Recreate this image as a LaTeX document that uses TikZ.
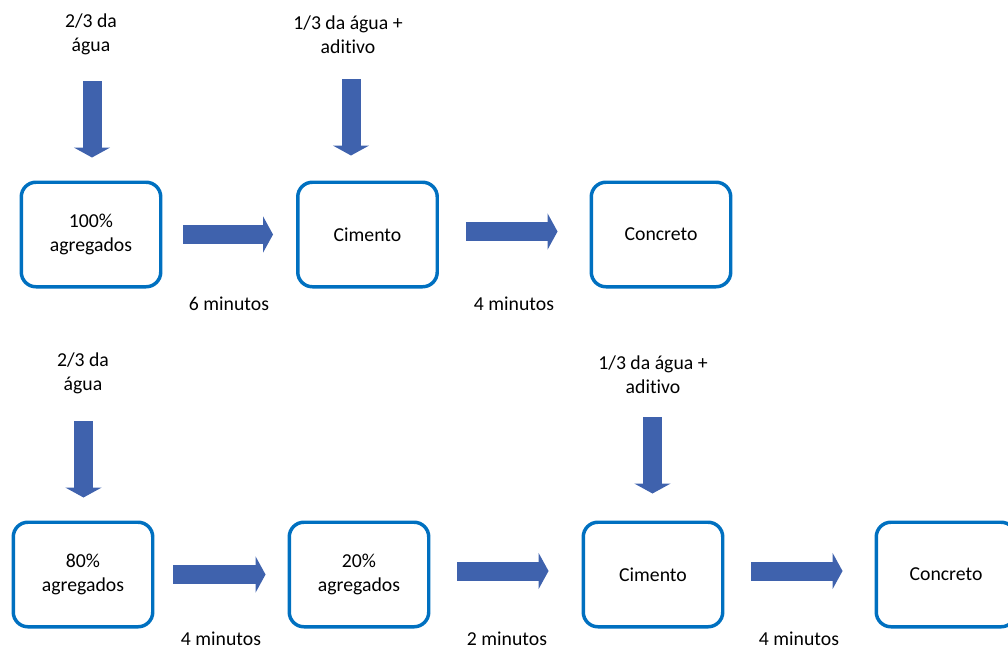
\documentclass[tikz,border=0pt]{standalone}
\usepackage{fontspec}
\setmainfont{Carlito}[Ligatures=NoCommon]
\usetikzlibrary{arrows.meta,calc}
\definecolor{boxblue}{HTML}{0070C0}
\definecolor{arrblue}{HTML}{3F62AD}
\begin{document}
\begin{tikzpicture}[x=0.75pt, y=-0.75pt,
    txt/.style={align=center, inner sep=0pt, font=\fontsize{14.8}{18}\selectfont},
    box/.style={txt, draw=boxblue, line width=2.6pt, rounded corners=11pt, minimum width=104.6pt, minimum height=78.4pt},
    flow/.style={draw=arrblue, line width=14.25pt, -{Triangle[width=27pt,length=7.5pt]}}]
    \useasboundingbox (0,0) rectangle (1008,651);
    \clip (0,0) rectangle (1008,651);
    % first sequence
    \node[txt] (t1) at (91,34) {2/3 da\\água}; \node[txt] (t2) at (348,35) {1/3 da água +\\aditivo};
    \node[box] (A) at (91,234.5) {100\%\\agregados}; \node[box] (B) at (367.5,234.5) {Cimento}; \node[box] (C) at (661,234.5) {Concreto};
    \node[txt] (m1) at (229,304) {6 minutos}; \node[txt] (m2) at (514,304) {4 minutos};
    \draw[flow] ($(t1)+(1,47)$) -- ($(t1 |- A.north)+(1,-23)$);
    \draw[flow] ($(t2)+(3,44)$) -- ($(t2 |- B.north)+(3,-25)$);
    \draw[flow] ($(A.east)+(21,0)$) -- ($(B.west)+(-23,0)$);
    \draw[flow] ($(B.east)+(27,-3)$) -- ($(C.west)+(-32,-3)$);
    % second sequence
    \node[txt] (t3) at (83,373) {2/3 da\\água}; \node[txt] (t4) at (653,375) {1/3 da água +\\aditivo};
    \node[box] (D) at (83,574.5) {80\%\\agregados}; \node[box] (E) at (359,574.5) {20\%\\agregados};
    \node[box] (F) at (653,574.5) {Cimento}; \node[box] (G) at (946,574.5) {Concreto};
    \node[txt] (m3) at (221,639) {4 minutos}; \node[txt] (m4) at (507,639) {2 minutos}; \node[txt] (m5) at (799,639) {4 minutos};
    \draw[flow] ($(t3)+(0.5,48)$) -- ($(t3 |- D.north)+(0.5,-23)$);
    \draw[flow] ($(t4)+(-0.5,42)$) -- ($(t4 |- F.north)+(-0.5,-27)$);
    \draw[flow] ($(D.east)+(19,0)$) -- ($(E.west)+(-22,0)$);
    \draw[flow] ($(E.east)+(27,-3.5)$) -- ($(F.west)+(-33,-3.5)$);
    \draw[flow] ($(F.east)+(27,-3.5)$) -- ($(G.west)+(-32,-3.5)$);
\end{tikzpicture}
\end{document}
